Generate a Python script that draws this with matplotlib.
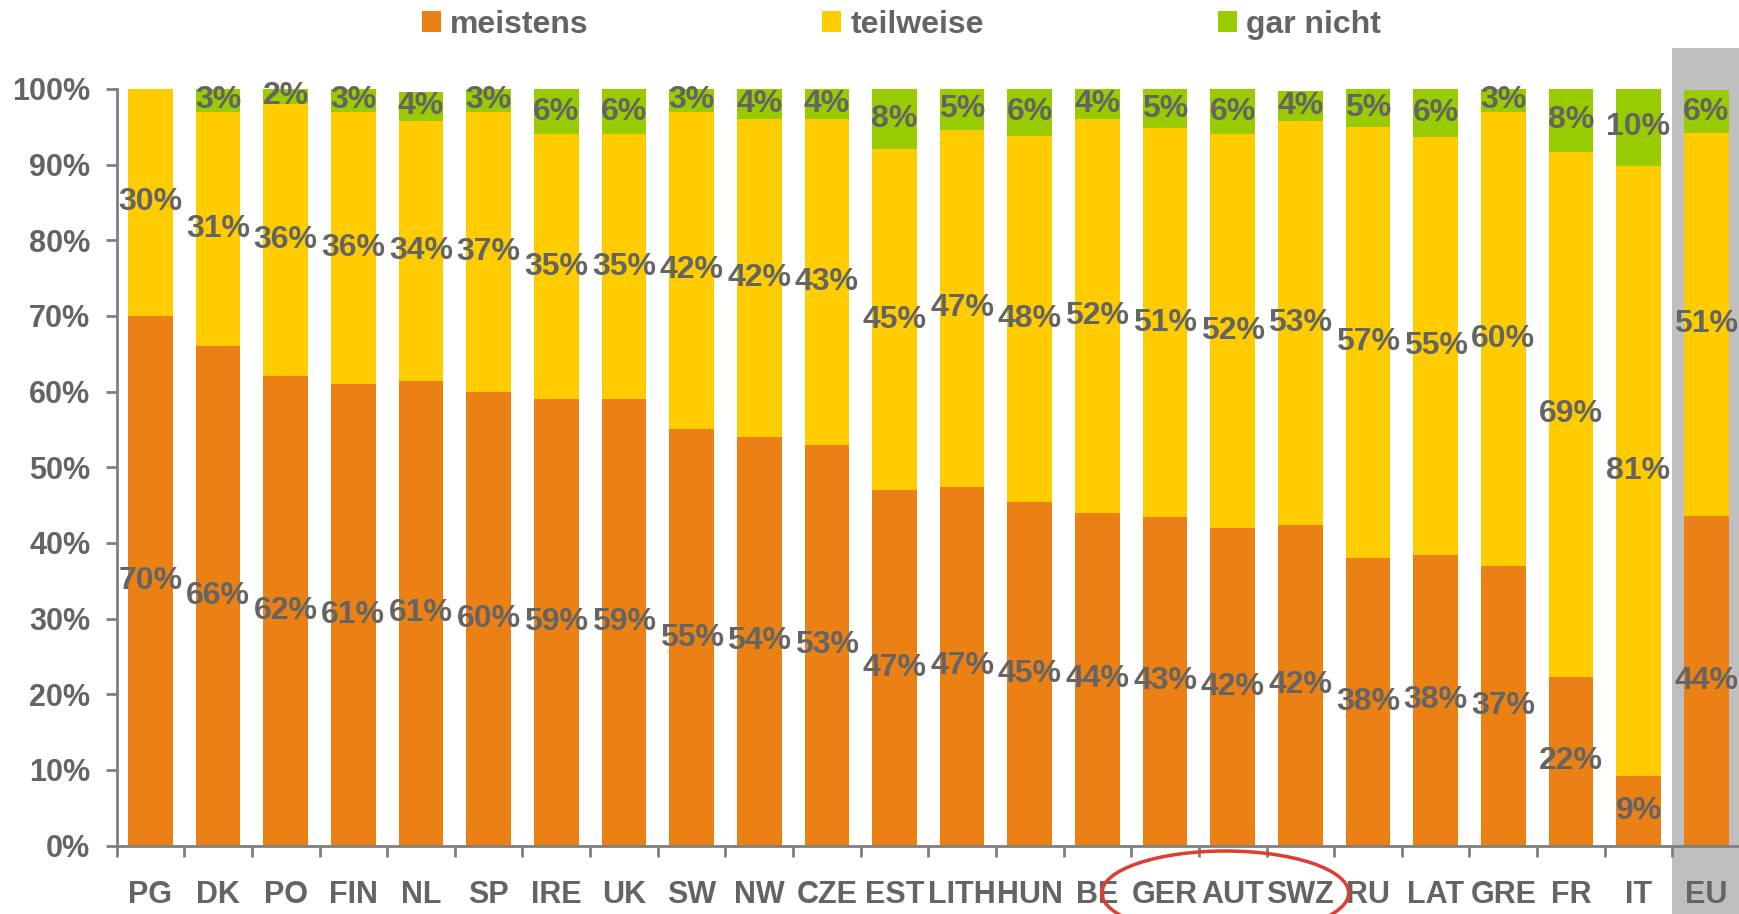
import matplotlib
matplotlib.use("Agg")
import matplotlib.pyplot as plt
import matplotlib.transforms as mtransforms
from matplotlib.patches import Rectangle, Ellipse, Patch
import numpy as np

categories = ["PG", "DK", "PO", "FIN", "NL", "SP", "IRE", "UK", "SW", "NW", "CZE", "EST",
              "LITH", "HUN", "BE", "GER", "AUT", "SWZ", "RU", "LAT", "GRE", "FR", "IT", "EU"]
meistens = [70, 66, 62, 61, 61.4, 60, 59, 59, 55, 54, 53, 47,
            47.4, 45.4, 44, 43.4, 42, 42.4, 38, 38.4, 37, 22.3, 9.2, 43.6]
teilweise = [30, 31, 36, 36, 34.4, 37, 35, 35, 42, 42, 43, 45,
             47.2, 48.4, 52, 51.4, 52, 53.3, 57, 55.2, 60, 69.4, 80.6, 50.6]
gar_nicht = [0, 3, 2, 3, 3.8, 3, 6, 6, 3, 4, 4, 8,
             5.4, 6.2, 4, 5.2, 6, 4, 5, 6.4, 3, 8.3, 10.2, 5.6]
series_names = ["meistens", "teilweise", "gar nicht"]
yticks = [0, 10, 20, 30, 40, 50, 60, 70, 80, 90, 100]

C_OR = "#EB8014"
C_YE = "#FFCC00"
C_GR = "#99CC00"
C_TX = "#646464"
C_AX = "#808080"
FONT = "Liberation Sans"

plt.rcParams["font.family"] = [FONT, "DejaVu Sans"]
plt.rcParams["font.weight"] = "bold"

fig = plt.figure(figsize=(17.4, 9.14), dpi=100)
ax = fig.add_axes([0.067, 0.0748, 0.933, 0.828])

x = np.arange(len(categories))
m = np.array(meistens, dtype=float)
t = np.array(teilweise, dtype=float)
g = np.array(gar_nicht, dtype=float)
w = 0.66

# grey highlight band behind EU
trans = mtransforms.blended_transform_factory(ax.transData, ax.transAxes)
ax.add_patch(Rectangle((x[-1] - 0.5, -0.0904), 1.0, 1.0543 + 0.0904, transform=trans,
                       facecolor="#BFBFBF", edgecolor="none", clip_on=False, zorder=0))

ax.bar(x, m, w, color=C_OR, zorder=2)
ax.bar(x, t, w, bottom=m, color=C_YE, zorder=2)
ax.bar(x, g, w, bottom=m + t, color=C_GR, zorder=2)

lab_kw = dict(ha="center", va="center", color=C_TX, fontsize=23, fontweight="bold",
              zorder=5, clip_on=False)
for i in range(len(categories)):
    ax.text(x[i], m[i] / 2, f"{round(m[i])}%", **lab_kw)
    ax.text(x[i], m[i] + t[i] / 2, f"{round(t[i])}%", **lab_kw)
    if g[i] > 0:
        ax.text(x[i], m[i] + t[i] + g[i] / 2, f"{round(g[i])}%", **lab_kw)

ax.set_xlim(-0.5, len(categories) - 0.5)
ax.set_ylim(0, 100)

for s in ["top", "right"]:
    ax.spines[s].set_visible(False)
for s in ["left", "bottom"]:
    ax.spines[s].set_color(C_AX)
    ax.spines[s].set_linewidth(2)

ax.set_yticks(yticks)
ax.set_yticklabels([f"{v}%" for v in yticks])
ax.tick_params(axis="y", length=8, width=2, color=C_AX, labelsize=22, labelcolor=C_TX, pad=11)

ax.set_xticks(np.arange(len(categories) + 1) - 0.5)
ax.set_xticklabels([])
ax.tick_params(axis="x", which="major", length=8, width=2, color=C_AX)
ax.set_xticks(x, minor=True)
ax.set_xticklabels(categories, minor=True)
ax.tick_params(axis="x", which="minor", length=0, labelsize=22, labelcolor=C_TX, pad=25)
for lbl in ax.get_xticklabels(minor=True) + ax.get_yticklabels():
    lbl.set_fontweight("bold")

# red ellipse highlighting GER / AUT / SWZ
ax.add_patch(Ellipse((15.89, -0.0626), 3.65, 0.111, transform=trans, fill=False,
                     edgecolor="#E03C31", linewidth=2.5, clip_on=False, zorder=6))

handles = [Patch(facecolor=c, edgecolor="none") for c in (C_OR, C_YE, C_GR)]
leg = fig.legend(handles, series_names, loc="center", bbox_to_anchor=(0.518, 0.973), ncol=3,
                 frameon=False, handlelength=0.6, handleheight=0.6,
                 handletextpad=0.3, columnspacing=7.3, labelcolor=C_TX,
                 prop={"family": FONT, "weight": "bold", "size": 23})

fig.savefig("out.png", dpi=100)
